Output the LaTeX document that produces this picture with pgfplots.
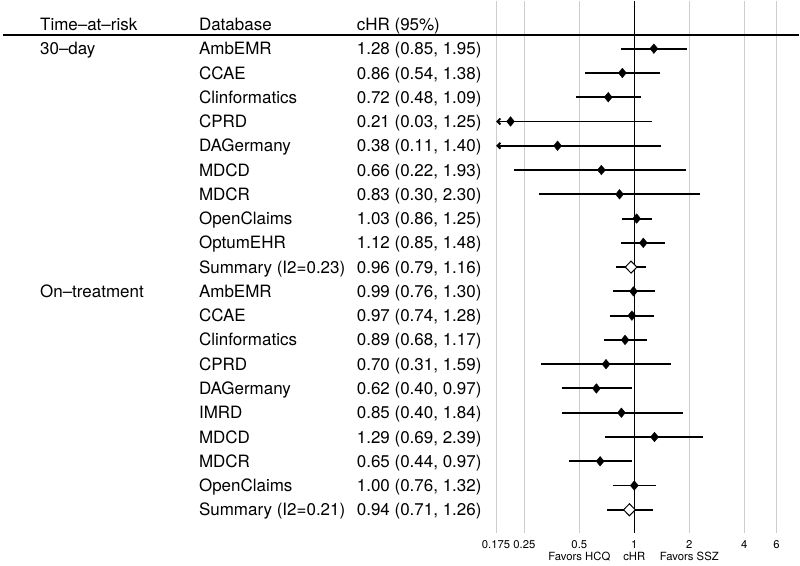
\documentclass[border=0pt]{standalone}
\usepackage{fontspec}
\setmainfont{TeX Gyre Heros}
\usepackage{pgfplots}
\usepackage{pgfplotstable}
\pgfplotsset{compat=1.18}
\usetikzlibrary{arrows.meta}
\definecolor{gridgray}{RGB}{205,205,205}

% row, estimate, lower, upper (study estimates)
\pgfplotstableread{
row est lo hi
1 1.28 0.85 1.95
2 0.86 0.54 1.38
3 0.72 0.48 1.09
4 0.21 0.03 1.25
5 0.38 0.11 1.40
6 0.66 0.22 1.93
7 0.83 0.30 2.30
8 1.03 0.86 1.25
9 1.12 0.85 1.48
11 0.99 0.76 1.30
12 0.97 0.74 1.28
13 0.89 0.68 1.17
14 0.70 0.31 1.59
15 0.62 0.40 0.97
16 0.85 0.40 1.84
17 1.29 0.69 2.39
18 0.65 0.44 0.97
19 1.00 0.76 1.32
}\studies
\pgfplotstableread{
row est lo hi
10 0.96 0.79 1.16
20 0.94 0.71 1.26
}\summaries

\begin{document}
\begin{tikzpicture}[
  tx/.style={anchor=west, inner sep=0pt, text height=12.2bp, text depth=0pt,
             font=\fontsize{17bp}{20bp}\selectfont},
  tk/.style={anchor=center, inner sep=0pt, text height=8.2bp, text depth=0pt,
             font=\fontsize{11.3bp}{13bp}\selectfont},
  ci/.style={black, line width=1.9bp, mark=none}]
\begin{axis}[width=800bp, height=565bp, scale only axis, hide axis,
  xmode=log, xmin=3.36e-4, xmax=7.99, ymin=-0.975, ymax=22.28,
  y dir=reverse, clip=false]
\path (rel axis cs:0,0) rectangle (rel axis cs:1,1);
% grid lines
\pgfplotsinvokeforeach{0.175,0.25,0.5,2,4,6}{
  \draw[gridgray, line width=1bp] (axis cs:#1,-0.975) -- (axis cs:#1,20.96);
}
% header rule
\draw[black, line width=1.8bp] (axis cs:3.49e-4,0.444) -- (axis cs:7.99,0.444);
% null line
\draw[black, line width=1.5bp] (axis cs:1,-0.975) -- (axis cs:1,20.96);

% confidence intervals
\addplot[ci] coordinates {(0.85,1) (1.95,1)};
\addplot[ci] coordinates {(0.54,2) (1.38,2)};
\addplot[ci] coordinates {(0.48,3) (1.09,3)};
\addplot[ci, {Straight Barb[length=3bp,width=6bp]}-] coordinates {(0.175,4) (1.25,4)};
\addplot[ci, {Straight Barb[length=3bp,width=6bp]}-] coordinates {(0.175,5) (1.40,5)};
\addplot[ci] coordinates {(0.22,6) (1.93,6)};
\addplot[ci] coordinates {(0.30,7) (2.30,7)};
\addplot[ci] coordinates {(0.86,8) (1.25,8)};
\addplot[ci] coordinates {(0.85,9) (1.48,9)};
\addplot[ci] coordinates {(0.79,10) (1.16,10)};
\addplot[ci] coordinates {(0.76,11) (1.30,11)};
\addplot[ci] coordinates {(0.74,12) (1.28,12)};
\addplot[ci] coordinates {(0.68,13) (1.17,13)};
\addplot[ci] coordinates {(0.31,14) (1.59,14)};
\addplot[ci] coordinates {(0.40,15) (0.97,15)};
\addplot[ci] coordinates {(0.40,16) (1.84,16)};
\addplot[ci] coordinates {(0.69,17) (2.39,17)};
\addplot[ci] coordinates {(0.44,18) (0.97,18)};
\addplot[ci] coordinates {(0.76,19) (1.32,19)};
\addplot[ci] coordinates {(0.71,20) (1.26,20)};

% point estimates
\addplot[only marks, mark=diamond*, mark size=4.8bp,
  mark options={fill=black, draw=black, xscale=1.1}] table[x=est, y=row] {\studies};
\addplot[only marks, mark=diamond*, mark size=6bp,
  mark options={fill=white, draw=black, line width=1bp, xscale=1.3}] table[x=est, y=row] {\summaries};

% column texts
\node[tx] at (axis cs:5.56e-4,0) {Time--at--risk};
\node[tx] at (axis cs:4.124e-3,0) {Database};
\node[tx] at (axis cs:0.03017,0) {cHR (95\%)};

\node[tx] at (axis cs:5.56e-4,1) {30--day};
\node[tx] at (axis cs:5.56e-4,11) {On--treatment};

\node[tx] at (axis cs:4.124e-3,1) {AmbEMR};
\node[tx] at (axis cs:4.124e-3,2) {CCAE};
\node[tx] at (axis cs:4.124e-3,3) {Clinformatics};
\node[tx] at (axis cs:4.124e-3,4) {CPRD};
\node[tx] at (axis cs:4.124e-3,5) {DAGermany};
\node[tx] at (axis cs:4.124e-3,6) {MDCD};
\node[tx] at (axis cs:4.124e-3,7) {MDCR};
\node[tx] at (axis cs:4.124e-3,8) {OpenClaims};
\node[tx] at (axis cs:4.124e-3,9) {OptumEHR};
\node[tx] at (axis cs:4.124e-3,10) {Summary (I2=0.23)};
\node[tx] at (axis cs:4.124e-3,11) {AmbEMR};
\node[tx] at (axis cs:4.124e-3,12) {CCAE};
\node[tx] at (axis cs:4.124e-3,13) {Clinformatics};
\node[tx] at (axis cs:4.124e-3,14) {CPRD};
\node[tx] at (axis cs:4.124e-3,15) {DAGermany};
\node[tx] at (axis cs:4.124e-3,16) {IMRD};
\node[tx] at (axis cs:4.124e-3,17) {MDCD};
\node[tx] at (axis cs:4.124e-3,18) {MDCR};
\node[tx] at (axis cs:4.124e-3,19) {OpenClaims};
\node[tx] at (axis cs:4.124e-3,20) {Summary (I2=0.21)};

\node[tx] at (axis cs:0.03017,1) {1.28 (0.85, 1.95)};
\node[tx] at (axis cs:0.03017,2) {0.86 (0.54, 1.38)};
\node[tx] at (axis cs:0.03017,3) {0.72 (0.48, 1.09)};
\node[tx] at (axis cs:0.03017,4) {0.21 (0.03, 1.25)};
\node[tx] at (axis cs:0.03017,5) {0.38 (0.11, 1.40)};
\node[tx] at (axis cs:0.03017,6) {0.66 (0.22, 1.93)};
\node[tx] at (axis cs:0.03017,7) {0.83 (0.30, 2.30)};
\node[tx] at (axis cs:0.03017,8) {1.03 (0.86, 1.25)};
\node[tx] at (axis cs:0.03017,9) {1.12 (0.85, 1.48)};
\node[tx] at (axis cs:0.03017,10) {0.96 (0.79, 1.16)};
\node[tx] at (axis cs:0.03017,11) {0.99 (0.76, 1.30)};
\node[tx] at (axis cs:0.03017,12) {0.97 (0.74, 1.28)};
\node[tx] at (axis cs:0.03017,13) {0.89 (0.68, 1.17)};
\node[tx] at (axis cs:0.03017,14) {0.70 (0.31, 1.59)};
\node[tx] at (axis cs:0.03017,15) {0.62 (0.40, 0.97)};
\node[tx] at (axis cs:0.03017,16) {0.85 (0.40, 1.84)};
\node[tx] at (axis cs:0.03017,17) {1.29 (0.69, 2.39)};
\node[tx] at (axis cs:0.03017,18) {0.65 (0.44, 0.97)};
\node[tx] at (axis cs:0.03017,19) {1.00 (0.76, 1.32)};
\node[tx] at (axis cs:0.03017,20) {0.94 (0.71, 1.26)};

% tick labels
\node[tk] at (axis cs:0.175,21.41) {0.175};
\node[tk] at (axis cs:0.25,21.41) {0.25};
\node[tk] at (axis cs:0.5,21.41) {0.5};
\node[tk] at (axis cs:1,21.41) {1};
\node[tk] at (axis cs:2,21.41) {2};
\node[tk] at (axis cs:4,21.41) {4};
\node[tk] at (axis cs:6,21.41) {6};
\node[tk] at (axis cs:0.5,21.91) {Favors HCQ};
\node[tk] at (axis cs:1,21.91) {cHR};
\node[tk] at (axis cs:2,21.91) {Favors SSZ};
\end{axis}
\end{tikzpicture}
\end{document}
